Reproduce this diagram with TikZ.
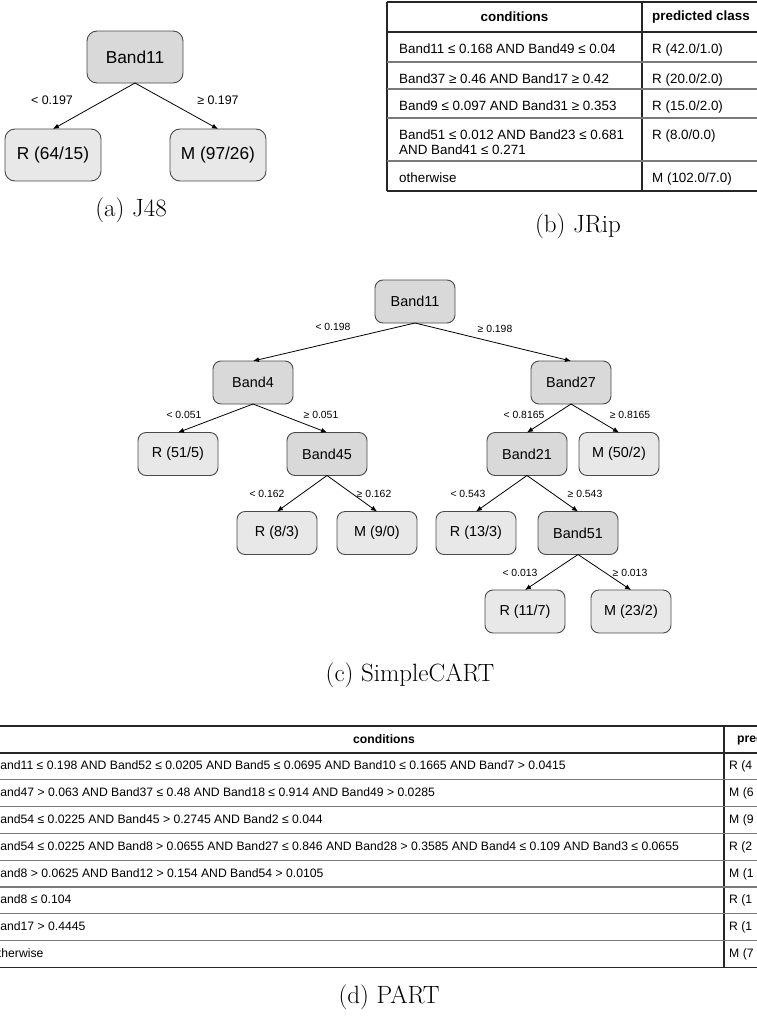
\documentclass[tikz,border=0pt]{standalone}
\usepackage{fontspec}
\newfontfamily\arialfont{Liberation Sans}
\usetikzlibrary{arrows.meta}

\definecolor{splitfill}{HTML}{D9D9D9}
\definecolor{leaffill}{HTML}{E8E8E8}
\definecolor{boxline}{HTML}{4A4A4A}
\definecolor{ruleline}{HTML}{7A7A7A}

\tikzset{
  treebox/.style={draw=boxline, line width=0.9pt, rounded corners=8pt, minimum width=80pt,
    minimum height=43pt, inner sep=0pt, outer sep=0pt, font=\arialfont\fontsize{14.4}{16}\selectfont},
  splitbox/.style={treebox, fill=splitfill},
  leafbox/.style={treebox, fill=leaffill},
  bigsplit/.style={splitbox, minimum width=96pt, minimum height=52pt, rounded corners=10pt,
    font=\arialfont\fontsize{17.3}{19}\selectfont},
  bigleaf/.style={leafbox, minimum width=96pt, minimum height=52pt, rounded corners=10pt,
    font=\arialfont\fontsize{17.3}{19}\selectfont},
  edge/.style={line width=0.8pt, -{Latex[length=6pt,width=5pt]}},
  cond/.style={inner sep=0pt, font=\arialfont\fontsize{10.4}{12}\selectfont},
  bigcond/.style={inner sep=0pt, font=\arialfont\fontsize{12.4}{14}\selectfont},
  jcell/.style={anchor=base west, inner sep=0pt, font=\arialfont\fontsize{13.4}{15}\selectfont},
  jhead/.style={inner sep=0pt, font=\arialfont\bfseries\fontsize{13.4}{15}\selectfont},
  pcell/.style={anchor=base west, inner sep=0pt, font=\arialfont\fontsize{12.2}{14}\selectfont},
  phead/.style={inner sep=0pt, font=\arialfont\bfseries\fontsize{12.2}{14}\selectfont},
  outerrule/.style={draw=black!85, line width=1.3pt},
  innerrule/.style={draw=ruleline, line width=1.1pt},
  caption/.style={inner sep=0pt, font=\fontsize{25}{28}\selectfont}
}

\begin{document}
\begin{tikzpicture}[x=1pt, y=-1pt]
  \useasboundingbox (0,0) rectangle (757,1017);
  \clip (0,0) rectangle (757,1017);

  % (a) J48
  \node[bigsplit] (jroot) at (135,57) {Band11};
  \node[bigleaf] (jleafr) at (53,155) {R (64/15)};
  \node[bigleaf] (jleafm) at (218,155) {M (97/26)};
  \draw[edge] (jroot.south) -- (jleafr.north);
  \draw[edge] (jroot.south) -- (jleafm.north);
  \node[bigcond] (jlo) at (52,100) {< 0.197};
  \node[bigcond] (jhi) at (218,100) {≥ 0.197};
  \node[caption] (capa) at (131,210) {(a) J48};

  % (b) JRip
  \draw[outerrule] (387,2) -- (760,2);          % top and bottom
  \draw[outerrule] (387,191) -- (760,191);
  \draw[outerrule] (387,2) -- (387,191);        % left and middle
  \draw[outerrule] (642,2) -- (642,191);
  \draw[outerrule] (387,32) -- (760,32);
  \draw[innerrule] (387,62) -- (760,62);
  \draw[innerrule] (387,89) -- (760,89);
  \draw[innerrule] (387,118) -- (760,118);
  \draw[innerrule] (387,161) -- (760,161);
  \node[jhead] (jrcond) at (514.5,17) {conditions};
  \node[jhead, anchor=west] (jrclass) at (652,17) {predicted class};
  \node[jcell] (jra) at (399,53) {Band11 ≤ 0.168 AND Band49 ≤ 0.04};
  \node[jcell] (jrb) at (399,83) {Band37 ≥ 0.46 AND Band17 ≥ 0.42};
  \node[jcell] (jrc) at (399,110) {Band9 ≤ 0.097 AND Band31 ≥ 0.353};
  \node[jcell] (jrd) at (399,139) {Band51 ≤ 0.012 AND Band23 ≤ 0.681};
  \node[jcell] (jrdd) at (399,154) {AND Band41 ≤ 0.271};
  \node[jcell] (jre) at (399,182) {otherwise};
  \node[jcell] (jrpa) at (652,53) {R (42.0/1.0)};
  \node[jcell] (jrpb) at (652,83) {R (20.0/2.0)};
  \node[jcell] (jrpc) at (652,110) {R (15.0/2.0)};
  \node[jcell] (jrpd) at (652,139) {R (8.0/0.0)};
  \node[jcell] (jrpe) at (652,182) {M (102.0/7.0)};
  \node[caption] (capb) at (578,226) {(b) JRip};

  % (c) SimpleCART
  \node[splitbox] (c11) at (415,301.5) {Band11};
  \node[splitbox] (c4) at (253,382.5) {Band4};
  \node[splitbox] (c27) at (571,382.5) {Band27};
  \node[leafbox] (cr515) at (178,454) {R (51/5)};
  \node[splitbox] (c45) at (327,454) {Band45};
  \node[splitbox] (c21) at (527,454) {Band21};
  \node[leafbox] (cm502) at (619,454) {M (50/2)};
  \node[leafbox] (cr83) at (277,533) {R (8/3)};
  \node[leafbox] (cm90) at (377,533) {M (9/0)};
  \node[leafbox] (cr133) at (476,533) {R (13/3)};
  \node[splitbox] (c51) at (578,533) {Band51};
  \node[leafbox] (cr117) at (525,611.5) {R (11/7)};
  \node[leafbox] (cm232) at (631,611.5) {M (23/2)};
  \draw[edge] (c11.south) -- (c4.north);
  \draw[edge] (c11.south) -- (c27.north);
  \draw[edge] (c4.south) -- (cr515.north);
  \draw[edge] (c4.south) -- (c45.north);
  \draw[edge] (c45.south) -- (cr83.north);
  \draw[edge] (c45.south) -- (cm90.north);
  \draw[edge] (c27.south) -- (c21.north);
  \draw[edge] (c27.south) -- (cm502.north);
  \draw[edge] (c21.south) -- (cr133.north);
  \draw[edge] (c21.south) -- (c51.north);
  \draw[edge] (c51.south) -- (cr117.north);
  \draw[edge] (c51.south) -- (cm232.north);
  \node[cond] (l11lo) at (333,327) {< 0.198};
  \node[cond] (l11hi) at (495,329) {≥ 0.198};
  \node[cond] (l4lo) at (184,415) {< 0.051};
  \node[cond] (l4hi) at (321,415) {≥ 0.051};
  \node[cond] (l45lo) at (267,494) {< 0.162};
  \node[cond] (l45hi) at (374,494) {≥ 0.162};
  \node[cond] (l27lo) at (524,415) {< 0.8165};
  \node[cond] (l27hi) at (630,415) {≥ 0.8165};
  \node[cond] (l21lo) at (468,494) {< 0.543};
  \node[cond] (l21hi) at (585,494) {≥ 0.543};
  \node[cond] (l51lo) at (520,573) {< 0.013};
  \node[cond] (l51hi) at (630,573) {≥ 0.013};
  \node[caption] (capc) at (410,675) {(c) SimpleCART};

  % (d) PART
  \draw[outerrule] (-20,726) -- (760,726);      % top and bottom
  \draw[outerrule] (-20,967.4) -- (760,967.4);
  \draw[outerrule] (724,726) -- (724,967.4);    % middle
  \draw[outerrule] (-20,753) -- (760,753);
  \draw[innerrule] (-20,779.8) -- (760,779.8);
  \draw[innerrule] (-20,806.6) -- (760,806.6);
  \draw[innerrule] (-20,833.4) -- (760,833.4);
  \draw[innerrule] (-20,860.2) -- (760,860.2);
  \draw[innerrule] (-20,887) -- (760,887);
  \draw[innerrule] (-20,913.8) -- (760,913.8);
  \draw[innerrule] (-20,940.6) -- (760,940.6);
  \node[phead] (pcond) at (384,739.5) {conditions};
  \node[phead, anchor=west] (pclass) at (737,739.5) {predicted class};
  \node[pcell] (pa) at (-8,769.8) {Band11 ≤ 0.198 AND Band52 ≤ 0.0205 AND Band5 ≤ 0.0695 AND Band10 ≤ 0.1665 AND Band7 > 0.0415};
  \node[pcell] (pb) at (-8,796.6) {Band47 > 0.063 AND Band37 ≤ 0.48 AND Band18 ≤ 0.914 AND Band49 > 0.0285};
  \node[pcell] (pc) at (-8,823.4) {Band54 ≤ 0.0225 AND Band45 > 0.2745 AND Band2 ≤ 0.044};
  \node[pcell] (pd) at (-8,850.2) {Band54 ≤ 0.0225 AND Band8 > 0.0655 AND Band27 ≤ 0.846 AND Band28 > 0.3585 AND Band4 ≤ 0.109 AND Band3 ≤ 0.0655};
  \node[pcell] (pe) at (-8,877) {Band8 > 0.0625 AND Band12 > 0.154 AND Band54 > 0.0105};
  \node[pcell] (pf) at (-8,903.8) {Band8 ≤ 0.104};
  \node[pcell] (pg) at (-8,930.6) {Band17 > 0.4445};
  \node[pcell] (ph) at (-9,957.4) {otherwise};
  \node[pcell] (ppa) at (729,769.8) {R (4};
  \node[pcell] (ppb) at (729,796.6) {M (6};
  \node[pcell] (ppc) at (729,823.4) {M (9};
  \node[pcell] (ppd) at (729,850.2) {R (2};
  \node[pcell] (ppe) at (729,877) {M (1};
  \node[pcell] (ppf) at (729,903.8) {R (1};
  \node[pcell] (ppg) at (729,930.6) {R (1};
  \node[pcell] (pph) at (729,957.4) {M (7};
  \node[caption] (capd) at (389,997) {(d) PART};
\end{tikzpicture}
\end{document}
